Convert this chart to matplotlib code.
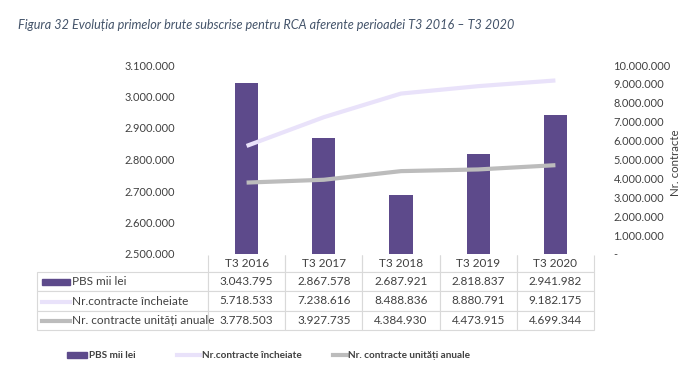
import matplotlib
matplotlib.use("Agg")
import matplotlib.pyplot as plt
from matplotlib.lines import Line2D
from matplotlib.ticker import FuncFormatter, MultipleLocator

plt.rcParams['font.family'] = ['Lato', 'DejaVu Sans']

categories = ["T3 2016", "T3 2017", "T3 2018", "T3 2019", "T3 2020"]
pbs = [3043795, 2867578, 2687921, 2818837, 2941982]
contracte_incheiate = [5718533, 7238616, 8488836, 8880791, 9182175]
contracte_anuale = [3778503, 3927735, 4384930, 4473915, 4699344]
series_names = ["PBS mii lei", "Nr.contracte încheiate", "Nr. contracte unități anuale"]

BAR_C = "#5d4a8b"
LIGHT_C = "#e9e2fa"
GRAY_C = "#bcbcbc"
TXT_C = "#404040"
GRID_C = "#d9d9d9"

W, H = 700, 371
fig = plt.figure(figsize=(7.0, 3.71), dpi=100)

def px_axes(l, t, r, b):
    return [l / W, 1 - b / H, (r - l) / W, (b - t) / H]

ax = fig.add_axes(px_axes(208, 65, 594, 254))
x = list(range(len(categories)))
ax.bar(x, pbs, width=0.3, color=BAR_C, zorder=2)
ax.set_xlim(-0.5, len(categories) - 0.5)
ax.set_ylim(2500000, 3100000)
ax.yaxis.set_major_locator(MultipleLocator(100000))

def dotfmt(v, pos=None):
    if abs(v) < 0.5:
        return "-"
    return f"{int(round(v)):,}".replace(",", ".")

ax.yaxis.set_major_formatter(FuncFormatter(dotfmt))
ax.tick_params(axis='y', length=0, pad=24, labelsize=7.9, labelcolor=TXT_C)
ax.set_xticks([])
for s in ax.spines.values():
    s.set_visible(False)

ax2 = ax.twinx()
ax2.plot(x, contracte_incheiate, color=LIGHT_C, lw=3, solid_capstyle='butt', zorder=3)
ax2.plot(x, contracte_anuale, color=GRAY_C, lw=3, solid_capstyle='butt', zorder=3)
ax2.set_ylim(0, 10000000)
ax2.yaxis.set_major_locator(MultipleLocator(1000000))
ax2.yaxis.set_major_formatter(FuncFormatter(dotfmt))
ax2.tick_params(axis='y', length=0, pad=14, labelsize=7.9, labelcolor=TXT_C)
for s in ax2.spines.values():
    s.set_visible(False)
ax2.set_ylabel("Nr. contracte", fontsize=8.3, color=TXT_C)
ax_h = 254 - 65
ax_w = 594 - 208
ax2.yaxis.set_label_coords((670 - 208) / ax_w, (254 - 163) / ax_h)

# data table
tab_left, tab_right, tab_top, tab_bot = 37, 594, 255, 330
rows = [pbs, contracte_incheiate, contracte_anuale]
table_cells = [[""] + categories] + [[""] + [dotfmt(v) for v in r] for r in rows]
tbl = ax.table(cellText=table_cells,
               colWidths=[171] + [77.2] * 5,
               cellLoc='center',
               bbox=[(tab_left - 208) / ax_w, (254 - tab_bot) / ax_h,
                     (tab_right - tab_left) / ax_w, (tab_bot - tab_top) / ax_h])
tbl.auto_set_font_size(False)
heights = [17, 19.5, 19.5, 19.5]
for (r, c), cell in tbl.get_celld().items():
    cell.set_height(heights[r])
    cell.set_edgecolor(GRID_C)
    cell.set_linewidth(0.8)
    cell.get_text().set_fontsize(8.5)
    cell.get_text().set_color(TXT_C)
    if r == 0 and c == 0:
        cell.visible_edges = ''
    elif r == 0:
        cell.visible_edges = 'LRB'

# row label swatches and text
row_centers = [281.5, 301.5, 320.5]
for i, (name, yc) in enumerate(zip(series_names, row_centers)):
    ya = (254 - yc) / ax_h
    x0 = (42 - 208) / ax_w
    x1 = (70 - 208) / ax_w
    if i == 0:
        ax.add_patch(plt.Rectangle((x0, ya - 3 / ax_h), x1 - x0, 6 / ax_h,
                                   transform=ax.transAxes, color=BAR_C,
                                   clip_on=False))
    else:
        ax.add_line(Line2D([x0, x1], [ya, ya], transform=ax.transAxes,
                           color=LIGHT_C if i == 1 else GRAY_C, lw=3,
                           clip_on=False))
    ax.text((72 - 208) / ax_w, ya, name, transform=ax.transAxes, ha='left',
            va='center', fontsize=8.5, color=TXT_C, clip_on=False)

# bottom legend (manual placement)
leg_y = 1 - 355 / H
leg_items = [(67, 87, 89), (177, 200, 202), (333, 347, 348)]
for i, ((h0, h1, tx), name) in enumerate(zip(leg_items, series_names)):
    if i == 0:
        fig.add_artist(plt.Rectangle((h0 / W, leg_y - 3 / H), (h1 - h0) / W, 6 / H,
                                     transform=fig.transFigure, color=BAR_C))
    else:
        fig.add_artist(Line2D([h0 / W, h1 / W], [leg_y, leg_y],
                              transform=fig.transFigure,
                              color=LIGHT_C if i == 1 else GRAY_C, lw=3))
    fig.text(tx / W, leg_y, name, fontsize=7.2, fontweight='bold', color=TXT_C,
             ha='left', va='center')

fig.text(18 / W, 1 - 25 / H,
         "Figura 32 Evoluția primelor brute subscrise pentru RCA aferente perioadei T3 2016 – T3 2020",
         fontsize=9.1, style='italic', color="#44546a", ha='left', va='center')

fig.savefig("out.png", dpi=100)
